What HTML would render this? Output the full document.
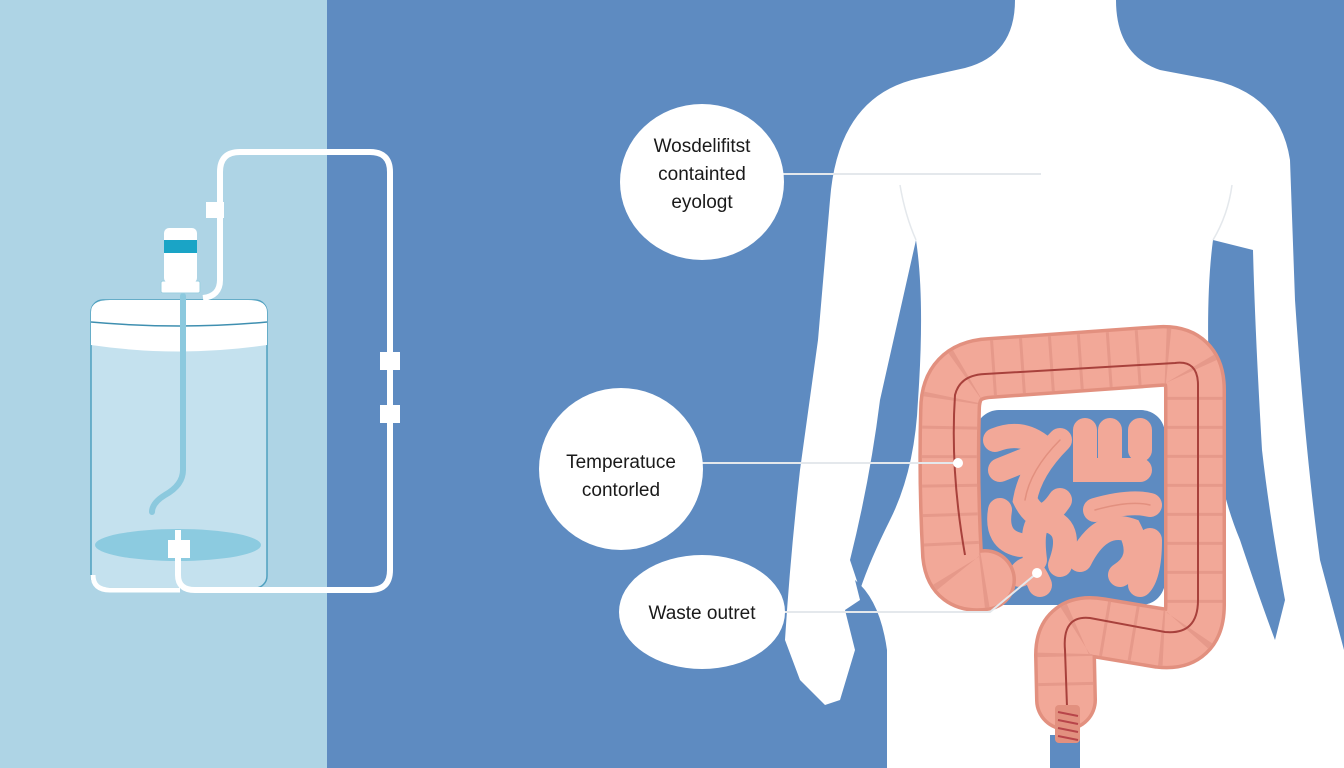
<!DOCTYPE html>
<html><head><meta charset="utf-8"><style>
html,body{margin:0;padding:0;width:1344px;height:768px;overflow:hidden;background:#5e8bc1}
svg{display:block}
text{font-family:"Liberation Sans",Arial,sans-serif;fill:#1a1a1a}
</style></head><body>
<svg width="1344" height="768" viewBox="0 0 1344 768" xmlns="http://www.w3.org/2000/svg">
<rect x="0" y="0" width="1344" height="768" fill="#5e8bc1"/>
<rect x="0" y="0" width="327" height="768" fill="#aed4e5"/>

<!-- tank -->
<rect x="91" y="300" width="176" height="288" rx="12" fill="#c4e1ee" stroke="#4fa0bf" stroke-width="1.5"/>
<path d="M91,312 Q91,300 110,300 L248,300 Q267,300 267,312 L267,345 Q180,358 91,345 Z" fill="#ffffff"/>
<path d="M91,322 Q180,330 267,322" fill="none" stroke="#3f8fb0" stroke-width="1.5"/>
<ellipse cx="178" cy="545" rx="83" ry="16" fill="#8ccbe0"/>
<path d="M183,296 L183,470 Q183,485 165,495 Q152,503 152,512" fill="none" stroke="#8cc9de" stroke-width="6" stroke-linecap="round"/>
<rect x="161" y="281" width="39" height="12" rx="2" fill="#fff" stroke="#9ccfe0"/>
<rect x="164" y="228" width="33" height="55" rx="5" fill="#fff"/>
<rect x="164" y="240" width="33" height="13" fill="#1aa4c6"/>
<path d="M203,298 Q220,296 220,280 L220,172 Q220,152 240,152 L370,152 Q390,152 390,172 L390,570 Q390,590 370,590 L195,590 Q178,590 178,575 L178,530" fill="none" stroke="#fff" stroke-width="6"/>
<path d="M93,575 Q93,590 110,590 L180,590" fill="none" stroke="#fff" stroke-width="5"/>
<rect x="206" y="202" width="18" height="16" fill="#fff"/>
<rect x="380" y="352" width="20" height="18" fill="#fff"/>
<rect x="380" y="405" width="20" height="18" fill="#fff"/>
<rect x="168" y="540" width="22" height="18" fill="#fff"/>

<!-- body -->
<path d="M1015,0 L1116,0 Q1116,55 1160,70 L1213,80 Q1280,95 1290,160 L1295,300 Q1305,450 1320,560 L1344,650 L1344,768 L1080,768 L1080,735 L1050,735 L1050,768 L887,768 L887,650 Q880,600 855,580 L860,600 L845,610 L855,650 L840,700 L825,705 L800,680 L785,640 Q790,560 800,470 L818,340 L830,200 Q838,95 920,78 L965,68 Q1015,55 1015,0 Z" fill="#fff"/>
<path d="M916,240 Q925,300 918,400 Q915,470 890,520 Q870,560 860,590 L850,560 Q870,480 880,400 Z" fill="#5e8bc1"/>
<path d="M1213,240 Q1205,300 1210,400 Q1215,480 1240,540 Q1260,600 1275,640 L1285,600 Q1270,520 1262,450 Q1255,330 1253,250 Z" fill="#5e8bc1"/>
<path d="M900,185 Q905,215 916,240" fill="none" stroke="#e4e8ec" stroke-width="1.5"/>
<path d="M1232,185 Q1228,215 1213,240" fill="none" stroke="#e4e8ec" stroke-width="1.5"/>

<!-- small intestine area -->
<rect x="975" y="410" width="190" height="195" rx="24" fill="#5e8bc1"/>
<g fill="none" stroke="#f2a898" stroke-width="24" stroke-linecap="round">
<path d="M995,440 Q1020,430 1040,445 M1000,470 L1025,460"/>
<path d="M1060,440 Q1030,470 1025,500 Q1040,530 1060,500"/>
<path d="M1085,430 L1085,470 L1140,470 M1110,430 L1110,460 M1140,430 L1140,450"/>
<path d="M1000,510 Q995,540 1020,545"/>
<path d="M1035,560 Q1030,520 1045,520 Q1075,525 1060,565"/>
<path d="M1095,510 Q1130,500 1150,505"/>
<path d="M1080,560 Q1100,520 1130,530 Q1145,560 1120,575 M1150,540 Q1150,575 1140,585"/>
<path d="M1040,585 Q1030,560 1020,575"/>
</g>
<g fill="none" stroke="#e2907f" stroke-width="1.5" stroke-linecap="round">
<path d="M1060,440 Q1030,470 1025,500"/>
<path d="M1095,510 Q1130,500 1150,505"/>
</g>

<!-- colon -->
<g fill="none" stroke-linejoin="round" stroke-linecap="round">
<path id="c" d="M985,580 Q955,585 952,555 Q948,480 950,410 Q950,370 990,368 L1160,356 Q1195,354 1195,390 L1195,605 Q1195,642 1160,638 L1100,628 Q1065,622 1065,655 L1066,700" stroke="#e2907f" stroke-width="62"/>
<path d="M985,580 Q955,585 952,555 Q948,480 950,410 Q950,370 990,368 L1160,356 Q1195,354 1195,390 L1195,605 Q1195,642 1160,638 L1100,628 Q1065,622 1065,655 L1066,700" stroke="#f2a898" stroke-width="55"/>
<path d="M985,580 Q955,585 952,555 Q948,480 950,410 Q950,370 990,368 L1160,356 Q1195,354 1195,390 L1195,605 Q1195,642 1160,638 L1100,628 Q1065,622 1065,655 L1066,700" stroke="#e6998a" stroke-width="55" stroke-dasharray="3 26" stroke-linecap="butt"/>
</g>
<path d="M965,555 Q950,470 955,395 Q960,375 985,374 L1175,363 Q1198,360 1198,385 L1198,600 Q1198,635 1165,632 L1090,618 Q1062,615 1065,650 L1068,735" fill="none" stroke="#a8413c" stroke-width="2"/>
<rect x="1055" y="705" width="25" height="38" rx="4" fill="#e2907f"/>
<path d="M1058,712 L1078,716 M1058,720 L1078,724 M1058,728 L1078,732 M1058,736 L1078,740" stroke="#b8454a" stroke-width="2"/>

<!-- connectors -->
<line x1="782" y1="174" x2="1041" y2="174" stroke="#e4e8ec" stroke-width="2"/>
<line x1="702" y1="463" x2="958" y2="463" stroke="#e4e8ec" stroke-width="2"/>
<circle cx="958" cy="463" r="5" fill="#fff"/>
<path d="M784,612 L990,612 L1037,573" fill="none" stroke="#e4e8ec" stroke-width="2"/>
<circle cx="1037" cy="573" r="5" fill="#fff"/>

<!-- labels -->
<ellipse cx="702" cy="182" rx="82" ry="78" fill="#fff"/>
<text x="702" y="152" font-size="19" text-anchor="middle">Wosdelifitst</text>
<text x="702" y="180" font-size="19" text-anchor="middle">containted</text>
<text x="702" y="208" font-size="19" text-anchor="middle">eyologt</text>
<ellipse cx="621" cy="469" rx="82" ry="81" fill="#fff"/>
<text x="621" y="468" font-size="19" text-anchor="middle">Temperatuce</text>
<text x="621" y="496" font-size="19" text-anchor="middle">contorled</text>
<ellipse cx="702" cy="612" rx="83" ry="57" fill="#fff"/>
<text x="702" y="619" font-size="19" text-anchor="middle">Waste outret</text>
</svg>
</body></html>
